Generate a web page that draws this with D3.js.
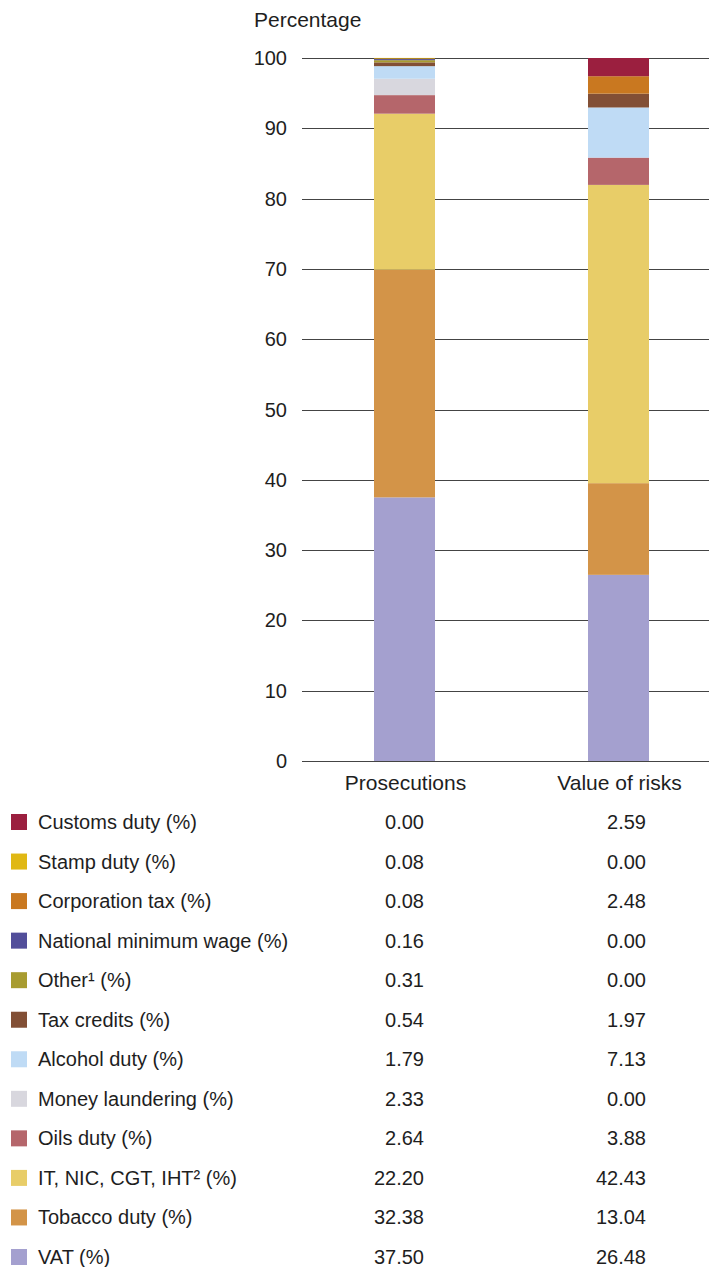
<!DOCTYPE html>
<html>
<head>
<meta charset="utf-8">
<script src="https://cdn.jsdelivr.net/npm/d3@7"></script>
<style>
  body { margin: 0; background: #fff; }
  svg text { font-family: "Liberation Sans", "Helvetica Neue", Arial, sans-serif; fill: #1e1e1e; }
</style>
</head>
<body>
<div id="chart"></div>
<script>
// columns of the stacked bars
const columns = ["Prosecutions", "Value of risks"];

// series, bottom of the stack first
const series = ["VAT (%)", "Tobacco duty (%)", "IT, NIC, CGT, IHT\u00B2 (%)", "Oils duty (%)",
  "Money laundering (%)", "Alcohol duty (%)", "Tax credits (%)", "Other\u00B9 (%)",
  "National minimum wage (%)", "Corporation tax (%)", "Stamp duty (%)", "Customs duty (%)"];

const prosecutions = [37.50, 32.38, 22.20, 2.64, 2.33, 1.79, 0.54, 0.31, 0.16, 0.08, 0.08, 0.00];
const valueOfRisks = [26.48, 13.04, 42.43, 3.88, 0.00, 7.13, 1.97, 0.00, 0.00, 2.48, 0.00, 2.59];

const colors = ["#a4a0cf", "#d39448", "#e8cd68", "#b5666b", "#d8d7de", "#bfdbf5",
  "#824f35", "#a89c30", "#524e9a", "#c97820", "#e0b814", "#9b1f3f"];

const yTicks = [0, 10, 20, 30, 40, 50, 60, 70, 80, 90, 100];

const width = 709, height = 1267;

const svg = d3.select("#chart").append("svg")
    .attr("width", width)
    .attr("height", height);

const plotLeft = 302, plotRight = 709;

const y = d3.scaleLinear().domain([0, 100]).range([761, 58]);
const x = d3.scalePoint().domain(columns).range([404.5, 618.5]);
const barWidth = 61;
const color = d3.scaleOrdinal().domain(series).range(colors);

// gridlines + tick labels
svg.append("g").selectAll("line")
    .data(yTicks)
    .enter().append("line")
    .attr("x1", plotLeft).attr("x2", plotRight)
    .attr("y1", d => Math.round(y(d)) + 0.5).attr("y2", d => Math.round(y(d)) + 0.5)
    .attr("stroke", "#444")
    .attr("stroke-width", 1);

svg.append("g").selectAll("text")
    .data(yTicks)
    .enter().append("text")
    .attr("x", 287)
    .attr("y", d => y(d))
    .attr("dy", "0.35em")
    .attr("text-anchor", "end")
    .style("font-size", "20px")
    .text(d => d);

svg.append("text")
    .attr("x", 254)
    .attr("y", 27)
    .style("font-size", "21px")
    .text("Percentage");

// stacked data
const rows = columns.map((c, i) => {
    const vals = i === 0 ? prosecutions : valueOfRisks;
    const r = { column: c };
    series.forEach((s, j) => r[s] = vals[j]);
    return r;
});

const stacked = d3.stack().keys(series)(rows);

svg.append("g").selectAll("g")
    .data(stacked)
    .enter().append("g")
    .attr("fill", d => color(d.key))
    .selectAll("rect")
    .data(d => d)
    .enter().append("rect")
    .attr("x", d => x(d.data.column) - barWidth / 2)
    .attr("y", d => y(d[1]))
    .attr("width", barWidth)
    .attr("height", d => y(d[0]) - y(d[1]));

// redraw baseline above bars
svg.append("line")
    .attr("x1", plotLeft).attr("x2", plotRight)
    .attr("y1", Math.round(y(0)) + 0.5).attr("y2", Math.round(y(0)) + 0.5)
    .attr("stroke", "#444");

// column labels
svg.append("g").selectAll("text")
    .data(columns)
    .enter().append("text")
    .attr("x", d => x(d) + 1)
    .attr("y", 783)
    .attr("dy", "0.35em")
    .attr("text-anchor", "middle")
    .style("font-size", "21px")
    .text(d => d);

// legend table, top of stack first
const legendOrder = series.slice().reverse();
const rowY = d3.scalePoint().domain(legendOrder).range([822, 1257]);

const legend = svg.append("g").selectAll("g")
    .data(legendOrder)
    .enter().append("g")
    .attr("transform", d => `translate(0,${rowY(d)})`);

legend.append("rect")
    .attr("x", 11)
    .attr("y", -8)
    .attr("width", 16)
    .attr("height", 16)
    .attr("fill", d => color(d));

legend.append("text")
    .attr("x", 38)
    .attr("dy", "0.35em")
    .style("font-size", "20px")
    .text(d => d);

legend.append("text")
    .attr("x", 424)
    .attr("dy", "0.35em")
    .attr("text-anchor", "end")
    .style("font-size", "20px")
    .text(d => prosecutions[series.indexOf(d)].toFixed(2));

legend.append("text")
    .attr("x", 646)
    .attr("dy", "0.35em")
    .attr("text-anchor", "end")
    .style("font-size", "20px")
    .text(d => valueOfRisks[series.indexOf(d)].toFixed(2));
</script>
</body>
</html>
